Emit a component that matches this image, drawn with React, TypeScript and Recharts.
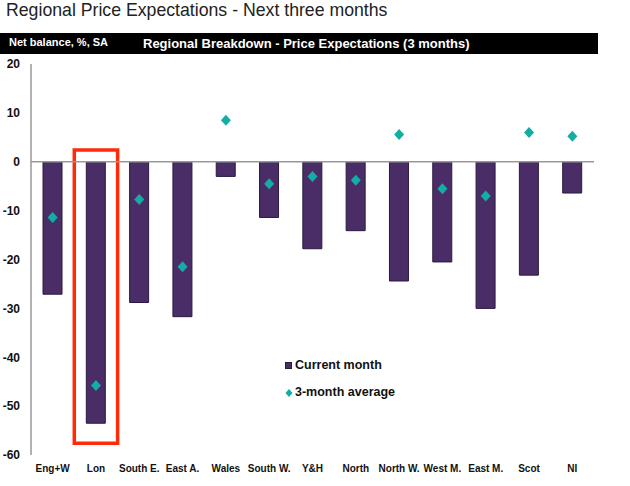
import React from "react";
import {
  ComposedChart,
  Bar,
  Scatter,
  XAxis,
  YAxis,
  ReferenceLine,
  ReferenceArea,
} from "recharts";

const regions = [
  "Eng+W",
  "Lon",
  "South E.",
  "East A.",
  "Wales",
  "South W.",
  "Y&H",
  "North",
  "North W.",
  "West M.",
  "East M.",
  "Scot",
  "NI",
];
const currentMonth = [-27.1, -53.5, -28.8, -31.7, -3.0, -11.4, -17.8, -14.1, -24.4, -20.5, -30.0, -23.2, -6.4];
const threeMonthAvg = [-11.4, -45.8, -7.7, -21.5, 8.5, -4.5, -3.0, -3.8, 5.6, -5.5, -7.0, 6.0, 5.2];
const yTicks = [-60, -50, -40, -30, -20, -10, 0, 10, 20];

const BAR_FILL = "#4a2d67";
const DOT_FILL = "#12ada3";
const FONT = "'Liberation Sans', Arial, sans-serif";

const data = regions.map((region, i) => ({
  region,
  current: currentMonth[i],
  avg: threeMonthAvg[i],
}));

function Diamond(props: any) {
  const { cx, cy } = props;
  if (cx == null || cy == null) return null;
  return (
    <polygon
      points={`${cx},${cy - 5.5} ${cx + 5},${cy} ${cx},${cy + 5.5} ${cx - 5},${cy}`}
      fill={DOT_FILL}
    />
  );
}

function LegendBox() {
  const text: React.CSSProperties = {
    fontFamily: FONT,
    fontWeight: "bold",
    fontSize: 12.5,
    color: "#111",
  };
  return (
    <div style={{ lineHeight: "27px" }}>
      <div style={{ display: "flex", alignItems: "center" }}>
        <span
          style={{
            width: 5,
            height: 5,
            background: BAR_FILL,
            border: "1px solid #222",
            marginRight: 3,
          }}
        />
        <span style={text}>Current month</span>
      </div>
      <div style={{ display: "flex", alignItems: "center" }}>
        <svg width={8} height={10} style={{ marginRight: 2 }}>
          <polygon points="4,1 7.5,5 4,9 0.5,5" fill={DOT_FILL} />
        </svg>
        <span style={text}>3-month average</span>
      </div>
    </div>
  );
}

export default function App() {
  return (
    <div
      style={{
        position: "absolute",
        left: 0,
        top: 0,
        width: 630,
        height: 486,
        background: "#fff",
        fontFamily: FONT,
      }}
    >
      <div
        style={{
          position: "absolute",
          left: 6,
          top: 0,
          fontSize: 17.7,
          color: "#222",
          whiteSpace: "nowrap",
        }}
      >
        Regional Price Expectations - Next three months
      </div>
      <div
        style={{
          position: "absolute",
          left: 0,
          top: 33,
          width: 598,
          height: 21,
          background: "#000",
          color: "#fff",
          fontWeight: "bold",
          whiteSpace: "nowrap",
        }}
      >
        <span style={{ position: "absolute", left: 9, top: 3, fontSize: 11 }}>
          Net balance, %, SA
        </span>
        <span style={{ position: "absolute", left: 143, top: 3, fontSize: 13 }}>
          Regional Breakdown - Price Expectations (3 months)
        </span>
      </div>
      <div style={{ position: "absolute", left: 0, top: 0 }}>
        <ComposedChart
          width={630}
          height={486}
          data={data}
          margin={{ top: 64, right: 36, bottom: 0, left: 0 }}
        >
          <XAxis
            dataKey="region"
            axisLine={false}
            tickLine={false}
            height={31}
            interval={0}
            tick={{ fontSize: 10, fontWeight: "bold", fill: "#111", fontFamily: FONT }}
            tickMargin={4}
          />
          <YAxis
            domain={[-60, 20]}
            ticks={yTicks}
            width={31}
            axisLine={{ stroke: "#999", strokeWidth: 1.5 }}
            tickLine={false}
            tickMargin={5}
            tick={{ fontSize: 12, fontWeight: "bold", fill: "#111", fontFamily: FONT }}
          />
          <ReferenceLine y={0} stroke="#999" strokeWidth={1.5} />
          <Bar
            dataKey="current"
            name="Current month"
            fill={BAR_FILL}
            stroke="#2a1a3c"
            strokeWidth={1}
            barSize={19}
            isAnimationActive={false}
          />
          <Scatter
            dataKey="avg"
            name="3-month average"
            shape={Diamond}
            isAnimationActive={false}
          />
          <ReferenceArea
            x1="Lon"
            x2="Lon"
            y1={-57.6}
            y2={2.4}
            fill="none"
            stroke="#ff2a0a"
            strokeWidth={3.5}
            ifOverflow="visible"
          />
        </ComposedChart>
      </div>
      <div style={{ position: "absolute", left: 285, top: 352, width: 150 }}>
        <LegendBox />
      </div>
    </div>
  );
}
